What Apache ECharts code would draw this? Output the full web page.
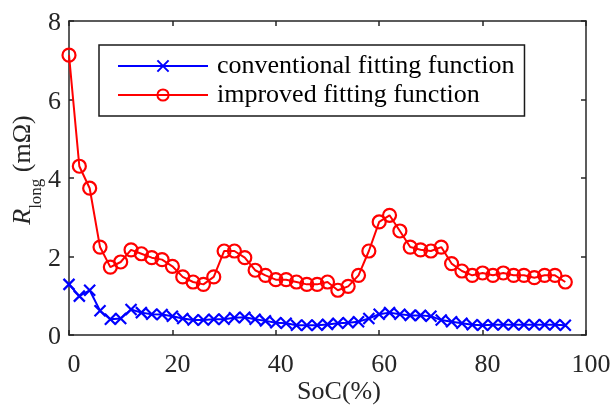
<!DOCTYPE html>
<html>
<head>
<meta charset="utf-8">
<script src="https://cdn.jsdelivr.net/npm/echarts@6/dist/echarts.min.js"></script>
<style>
html,body{margin:0;padding:0;background:#fff;}
#chart{width:611px;height:407px;}
</style>
</head>
<body>
<div id="chart"></div>
<script>
var soc = [0,2,4,6,8,10,12,14,16,18,20,22,24,26,28,30,32,34,36,38,40,42,44,46,48,50,52,54,56,58,60,62,64,66,68,70,72,74,76,78,80,82,84,86,88,90,92,94,96];
var conventional = [1.29,0.99,1.14,0.62,0.40,0.42,0.65,0.57,0.53,0.52,0.48,0.42,0.38,0.38,0.40,0.40,0.44,0.45,0.40,0.36,0.31,0.30,0.25,0.25,0.25,0.27,0.30,0.31,0.34,0.42,0.53,0.57,0.53,0.50,0.50,0.48,0.38,0.34,0.30,0.26,0.25,0.26,0.26,0.26,0.26,0.26,0.26,0.26,0.25];
var improved = [7.13,4.30,3.74,2.24,1.73,1.86,2.17,2.07,1.97,1.92,1.75,1.48,1.35,1.29,1.48,2.14,2.14,1.97,1.65,1.52,1.41,1.41,1.35,1.29,1.29,1.35,1.14,1.24,1.52,2.14,2.88,3.05,2.65,2.24,2.17,2.14,2.24,1.82,1.63,1.52,1.58,1.52,1.58,1.52,1.52,1.46,1.52,1.52,1.35];
var seriesNames = ['conventional fitting function','improved fitting function'];
var xTicks = {min:0,max:100,interval:20};
var yTicks = {min:0,max:8,interval:2};

function pairs(xs, ys){ return xs.map(function(x,i){return [x, ys[i]];}); }

var FONT = '"Liberation Serif","Times New Roman",serif';
var AX = '#262626';
var chart = echarts.init(document.getElementById('chart'), null, {renderer:'canvas'});
var axLine = {show:true, onZero:false, lineStyle:{color:AX, width:1.5}};
var tick = {inside:true, length:5, lineStyle:{color:AX,width:1.5}};
chart.setOption({
  animation:false,
  backgroundColor:'#fff',
  grid:{left:69,right:25,top:21,bottom:72,containLabel:false,outerBoundsMode:'none'},
  legend:{
    data:seriesNames,
    orient:'vertical', left:99, top:45,
    borderColor:'#1a1a1a', borderWidth:1.5,
    padding:[8,10,8,18],
    itemWidth:90, itemHeight:14, itemGap:3,
    textStyle:{fontFamily:FONT, fontSize:26, color:'#000', lineHeight:26, padding:[0,0,0,4]}
  },
  xAxis:[{
    type:'value', min:xTicks.min, max:xTicks.max, interval:xTicks.interval,
    name:'SoC(%)', nameLocation:'middle', nameGap:44, nameMoveOverlap:false,
    nameTextStyle:{fontFamily:FONT, fontSize:26, color:AX, padding:[0,0,0,23]},
    axisLine:axLine, axisTick:tick,
    axisLabel:{fontFamily:FONT, fontSize:26, color:AX, margin:17, padding:[0,0,0,10]},
    splitLine:{show:false}
  },{
    type:'value', position:'top', min:xTicks.min, max:xTicks.max, interval:xTicks.interval,
    axisLine:axLine, axisTick:tick,
    axisLabel:{show:false}, splitLine:{show:false}
  }],
  yAxis:[{
    type:'value', min:yTicks.min, max:yTicks.max, interval:yTicks.interval,
    name:'{i|R}{s|long} (mΩ)', nameLocation:'middle', nameGap:33, nameRotate:90, nameMoveOverlap:false,
    nameTextStyle:{fontFamily:FONT, fontSize:26, color:AX, padding:[0,0,0,16],
      rich:{i:{fontFamily:FONT, fontSize:26, fontStyle:'italic', color:AX},
            s:{fontFamily:FONT, fontSize:17, color:AX, verticalAlign:'bottom', padding:[0,0,-9,0]}}},
    axisLine:axLine, axisTick:tick,
    axisLabel:{fontFamily:FONT, fontSize:26, color:AX, margin:8,
      formatter:'{a|{value}}', rich:{a:{fontFamily:FONT, fontSize:26, color:AX, padding:[5,0,0,0]}}},
    splitLine:{show:false}
  },{
    type:'value', position:'right', min:yTicks.min, max:yTicks.max, interval:yTicks.interval,
    axisLine:axLine, axisTick:tick,
    axisLabel:{show:false}, splitLine:{show:false}
  }],
  series:[{
    name:seriesNames[0], type:'line', xAxisIndex:0, yAxisIndex:0,
    data:pairs(soc, conventional),
    symbol:'path://M0,0L10,10M10,0L0,10', symbolSize:11, showAllSymbol:true,
    lineStyle:{color:'#0000ff', width:2},
    itemStyle:{color:'#0000ff', borderColor:'#0000ff', borderWidth:2.2}
  },{
    name:seriesNames[1], type:'line', xAxisIndex:0, yAxisIndex:0,
    data:pairs(soc, improved),
    symbol:'circle', symbolSize:13, showAllSymbol:true,
    lineStyle:{color:'#ff0000', width:2},
    itemStyle:{color:'rgba(255,255,255,0)', borderColor:'#ff0000', borderWidth:2.2}
  }]
});
</script>
</body>
</html>
